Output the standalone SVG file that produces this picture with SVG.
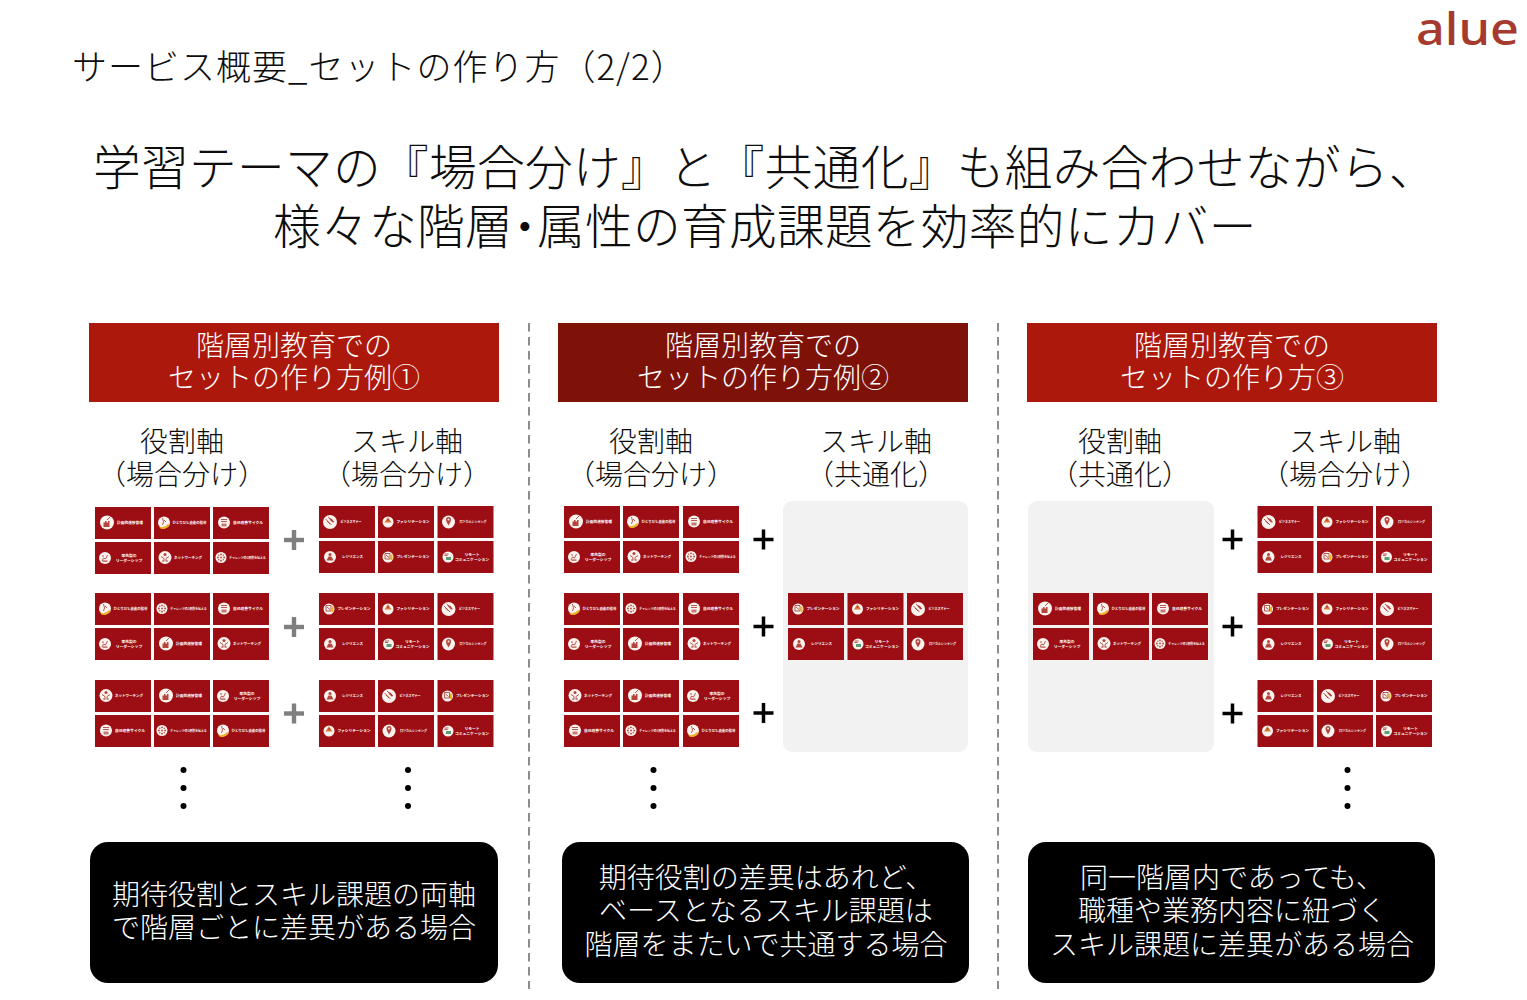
<svg xmlns="http://www.w3.org/2000/svg" width="1527" height="1000" viewBox="0 0 1527 1000">
<style>
text{font-family:"Noto Sans CJK JP",sans-serif;font-weight:300;fill:#0d0d0d}
.c{text-anchor:middle}
.hd{font-size:47.7px;letter-spacing:.3px}
.h{font-size:28px;fill:#fff}
.a{font-size:28px}
.b{font-size:28px;fill:#fff}
.t{fill:#9c0e14}
.i{fill:#fbf3ee}
.g{fill:none;stroke:#a8302c;stroke-width:.8}
.f{fill:#b5453c}
.y{fill:#eeb21f}
.l{fill:#fff;font-weight:700;text-anchor:middle}
.bg{fill:#f2f2f2}
.bx{fill:#000}
.gp{fill:#7f7f7f}
.kp{fill:#000}
.sep{stroke:#8c8c8c;stroke-width:2;stroke-dasharray:8.5 5.5;fill:none}
</style>
<defs>
<g id="A"><rect class="t" width="56" height="32"/><circle class="i" cx="12" cy="15.500" r="7"/><path class="f" d="M8.500 20v-4.500h1.500v-1.500h1.500v1.500h1.500v-1.500h1.500v6z"/><path class="g" d="M12 13l3.500-3.500"/><text class="l" x="35" y="17.300" font-size="3.700">計画的進捗管理</text></g>
<g id="B"><rect class="t" width="56" height="32"/><circle class="i" cx="10" cy="15.500" r="6"/><path class="y" d="M5 19.500q5 2.500 9-2.500l1.500 1q-4 5.500-9 3.500z"/><path class="g" d="M8.500 11l1 4-1 3M10 13l2 2"/><text class="l" x="35.500" y="17.300" font-size="3.400">ひとりだち直後の指導</text></g>
<g id="C"><rect class="t" width="56" height="32"/><circle class="i" cx="11" cy="15.500" r="6"/><path class="g" d="M8 12.500h6M8 14.500h6"/><path class="f" d="M8.500 16.500h5v3h-5z" opacity=".7"/><text class="l" x="35" y="17.300" font-size="3.800">自己改善サイクル</text></g>
<g id="D"><rect class="t" width="56" height="32"/><circle class="i" cx="10" cy="16" r="6"/><path class="g" d="M7 19l1.500-3 2 1 2-4M7 14h2"/><path class="f" d="M7.500 18.500h5v1.200h-5z"/><text class="l" x="34" y="14.500" font-size="3.800">率先型の</text><text class="l" x="34" y="19.500" font-size="3.800">リーダーシップ</text></g>
<g id="E"><rect class="t" width="56" height="32"/><circle class="i" cx="11" cy="15.500" r="6.500"/><circle class="f" cx="11" cy="12.500" r="1.500"/><path class="g" d="M7 14.500l3 2v3M15 14.500l-3 2v3M8 19h2M12 19h2"/><text class="l" x="34" y="17" font-size="3.500">ネットワーキング</text></g>
<g id="F"><rect class="t" width="56" height="32"/><circle class="i" cx="8" cy="15.500" r="5.500"/><circle class="f" cx="8" cy="12.300" r=".9"/><circle class="f" cx="8" cy="18.700" r=".9"/><circle class="f" cx="4.900" cy="15.500" r=".9"/><circle class="f" cx="11.100" cy="15.500" r=".9"/><circle class="f" cx="8" cy="15.500" r=".9"/><circle class="f" cx="5.800" cy="13.300" r=".7"/><circle class="f" cx="10.200" cy="13.300" r=".7"/><circle class="f" cx="5.800" cy="17.700" r=".7"/><circle class="f" cx="10.200" cy="17.700" r=".7"/><text class="l" x="34.500" y="17" font-size="2.900">チャレンジの3原則を伝える</text></g>
<g id="G"><rect class="t" width="56" height="32"/><circle class="i" cx="11" cy="16" r="7"/><path class="g" d="M6.500 13l6 6M9 11l6 5M8 15l3 3"/><path class="f" d="M10 12l3 1 2 3-1.500.5-2.500-2.500z"/><text class="l" x="32" y="17" font-size="3">ビジネスマナー</text></g>
<g id="H"><rect class="t" width="56" height="32"/><circle class="i" cx="10" cy="16" r="5.500"/><path d="M10 11l3.500 5.500h-7z" fill="#dc7a3c"/><circle class="f" cx="10" cy="14" r="1"/><text class="l" x="35" y="17.300" font-size="3.700">ファシリテーション</text></g>
<g id="I"><rect class="t" width="56" height="32"/><circle class="i" cx="11" cy="16" r="6.500"/><path class="f" d="M8.500 13.500a2.500 2.500 0 0 1 5 0q0 2.500-2.500 6-2.500-3.500-2.500-6z"/><circle class="i" cx="11" cy="13.500" r="1"/><text class="l" x="35.500" y="17" font-size="3">ロジカルシンキング</text></g>
<g id="J"><rect class="t" width="56" height="32"/><circle class="i" cx="11" cy="16" r="6"/><circle class="f" cx="11" cy="13.500" r="1.500"/><path class="f" d="M7.500 19.500l2-4h3l2 4z"/><text class="l" x="33.500" y="17.300" font-size="3.500">レジリエンス</text></g>
<g id="K"><rect class="t" width="56" height="32"/><circle class="i" cx="10" cy="16" r="5.500"/><path class="g" d="M7 12.500h5v5.500h-5zM8 14l3 2.500"/><path class="y" d="M12.500 13.500h2v5.500h-2z"/><text class="l" x="35" y="17.300" font-size="3.700">プレゼンテーション</text></g>
<g id="L"><rect class="t" width="56" height="32"/><circle class="i" cx="10.500" cy="16" r="5.500"/><path class="g" d="M7 13h4M7 14.500h3"/><path d="M8.500 16h5v3h-5z" fill="#5c9f72"/><text class="l" x="34.500" y="14.500" font-size="3.800">リモート</text><text class="l" x="34.500" y="19.500" font-size="3.800">コミュニケーション</text></g>
<g id="gplus"><rect class="gp" x="-10" y="-2.200" width="20" height="4.400"/><rect class="gp" x="-2.200" y="-10" width="4.400" height="20"/></g>
<g id="kplus"><rect class="kp" x="-10" y="-1.750" width="20" height="3.500"/><rect class="kp" x="-1.750" y="-10" width="3.500" height="20"/></g>
<g id="dots"><circle cy="770" r="3"/><circle cy="788" r="3"/><circle cy="806" r="3"/></g>
</defs>
<rect width="1527" height="1000" fill="#fff"/>
<g id="logo"><text x="1416" y="45" font-size="45" textLength="103" lengthAdjust="spacingAndGlyphs" style="font-family:'Noto Sans',sans-serif;font-weight:500;fill:#a63a2e">alue</text></g>
<g id="title"><text x="72" y="80" font-size="35" letter-spacing="1">サービス概要_セットの作り方（2/2）</text></g>
<g id="headline">
<text class="hd" x="93" y="185">学習テーマの『場合分け』と『共通化』も組み合わせながら、</text>
<text class="hd" x="273" y="244">様々な階層<tspan dx="-12">・</tspan><tspan dx="-12">属性の育成課題を効率的にカバー</tspan></text>
</g>
<g id="connectors">
<path class="sep" d="M529 323V989M998 323V989"/>
</g>
<g id="panel1">
<g id="header1"><rect x="89" y="323" width="410" height="79" fill="#ac180c"/><text class="h c" x="294" y="355.500">階層別教育での</text><text class="h c" x="294" y="388">セットの作り方例①</text></g>
<g id="axes1"><text class="a c" x="182" y="452">役割軸</text><text class="a c" x="182" y="484.500">（場合分け）</text><text class="a c" x="407" y="452">スキル軸</text><text class="a c" x="407" y="484.500">（場合分け）</text></g>
<g id="tiles1">
<use href="#A" x="95" y="507"/><use href="#B" x="154" y="507"/><use href="#C" x="213" y="507"/>
<use href="#D" x="95" y="542"/><use href="#E" x="154" y="542"/><use href="#F" x="213" y="542"/>
<use href="#B" x="95" y="593"/><use href="#F" x="154" y="593"/><use href="#C" x="213" y="593"/>
<use href="#D" x="95" y="628"/><use href="#A" x="154" y="628"/><use href="#E" x="213" y="628"/>
<use href="#E" x="95" y="680"/><use href="#A" x="154" y="680"/><use href="#D" x="213" y="680"/>
<use href="#C" x="95" y="715"/><use href="#F" x="154" y="715"/><use href="#B" x="213" y="715"/>
<use href="#G" x="319" y="506"/><use href="#H" x="378" y="506"/><use href="#I" x="437.500" y="506"/>
<use href="#J" x="319" y="541"/><use href="#K" x="378" y="541"/><use href="#L" x="437.500" y="541"/>
<use href="#K" x="319" y="593"/><use href="#H" x="378" y="593"/><use href="#G" x="437.500" y="593"/>
<use href="#J" x="319" y="628"/><use href="#L" x="378" y="628"/><use href="#I" x="437.500" y="628"/>
<use href="#J" x="319" y="680"/><use href="#G" x="378" y="680"/><use href="#K" x="437.500" y="680"/>
<use href="#H" x="319" y="715"/><use href="#I" x="378" y="715"/><use href="#L" x="437.500" y="715"/>
</g>
<use href="#gplus" x="294" y="540"/><use href="#gplus" x="294" y="627"/><use href="#gplus" x="294" y="713.500"/>
<use href="#dots" x="183.500"/><use href="#dots" x="408"/>
<g id="note1"><rect class="bx" x="90" y="842" width="408" height="141" rx="18"/><text class="b c" x="294" y="905">期待役割とスキル課題の両軸</text><text class="b c" x="294" y="938">で階層ごとに差異がある場合</text></g>
</g>
<g id="panel2">
<g id="header2"><rect x="558" y="323" width="410" height="79" fill="#7f1208"/><text class="h c" x="763" y="355.500">階層別教育での</text><text class="h c" x="763" y="388">セットの作り方例②</text></g>
<g id="axes2"><text class="a c" x="651" y="452">役割軸</text><text class="a c" x="651" y="484.500">（場合分け）</text><text class="a c" x="876" y="452">スキル軸</text><text class="a c" x="876" y="484.500">（共通化）</text></g>
<rect class="bg" x="783" y="501" width="185" height="251" rx="9"/>
<g id="tiles2">
<use href="#A" x="564" y="506"/><use href="#B" x="623" y="506"/><use href="#C" x="683" y="506"/>
<use href="#D" x="564" y="541"/><use href="#E" x="623" y="541"/><use href="#F" x="683" y="541"/>
<use href="#B" x="564" y="593"/><use href="#F" x="623" y="593"/><use href="#C" x="683" y="593"/>
<use href="#D" x="564" y="628"/><use href="#A" x="623" y="628"/><use href="#E" x="683" y="628"/>
<use href="#E" x="564" y="680"/><use href="#A" x="623" y="680"/><use href="#D" x="683" y="680"/>
<use href="#C" x="564" y="715"/><use href="#F" x="623" y="715"/><use href="#B" x="683" y="715"/>
<use href="#K" x="788" y="593"/><use href="#H" x="847.500" y="593"/><use href="#G" x="907" y="593"/>
<use href="#J" x="788" y="628"/><use href="#L" x="847.500" y="628"/><use href="#I" x="907" y="628"/>
</g>
<use href="#kplus" x="763.500" y="539.500"/><use href="#kplus" x="763.500" y="626.500"/><use href="#kplus" x="763.500" y="713"/>
<use href="#dots" x="653.500"/>
<g id="note2"><rect class="bx" x="562" y="842" width="407" height="141" rx="18"/><text class="b c" x="766" y="888">期待役割の差異はあれど、</text><text class="b c" x="766" y="921">ベースとなるスキル課題は</text><text class="b c" x="766" y="955">階層をまたいで共通する場合</text></g>
</g>
<g id="panel3">
<g id="header3"><rect x="1027" y="323" width="410" height="79" fill="#ac180c"/><text class="h c" x="1232" y="355.500">階層別教育での</text><text class="h c" x="1232" y="388">セットの作り方③</text></g>
<g id="axes3"><text class="a c" x="1120" y="452">役割軸</text><text class="a c" x="1120" y="484.500">（共通化）</text><text class="a c" x="1345" y="452">スキル軸</text><text class="a c" x="1345" y="484.500">（場合分け）</text></g>
<rect class="bg" x="1028" y="501" width="186" height="251" rx="9"/>
<g id="tiles3">
<use href="#A" x="1033" y="593"/><use href="#B" x="1093" y="593"/><use href="#C" x="1152" y="593"/>
<use href="#D" x="1033" y="628"/><use href="#E" x="1093" y="628"/><use href="#F" x="1152" y="628"/>
<use href="#G" x="1257.500" y="506"/><use href="#H" x="1317" y="506"/><use href="#I" x="1376" y="506"/>
<use href="#J" x="1257.500" y="541"/><use href="#K" x="1317" y="541"/><use href="#L" x="1376" y="541"/>
<use href="#K" x="1257.500" y="593"/><use href="#H" x="1317" y="593"/><use href="#G" x="1376" y="593"/>
<use href="#J" x="1257.500" y="628"/><use href="#L" x="1317" y="628"/><use href="#I" x="1376" y="628"/>
<use href="#J" x="1257.500" y="680"/><use href="#G" x="1317" y="680"/><use href="#K" x="1376" y="680"/>
<use href="#H" x="1257.500" y="715"/><use href="#I" x="1317" y="715"/><use href="#L" x="1376" y="715"/>
</g>
<use href="#kplus" x="1232.500" y="539.500"/><use href="#kplus" x="1232.500" y="626.500"/><use href="#kplus" x="1232.500" y="713.500"/>
<use href="#dots" x="1347.500"/>
<g id="note3"><rect class="bx" x="1028" y="842" width="407" height="141" rx="18"/><text class="b c" x="1232" y="888">同一階層内であっても、</text><text class="b c" x="1232" y="921">職種や業務内容に紐づく</text><text class="b c" x="1232" y="955">スキル課題に差異がある場合</text></g>
</g>
</svg>
